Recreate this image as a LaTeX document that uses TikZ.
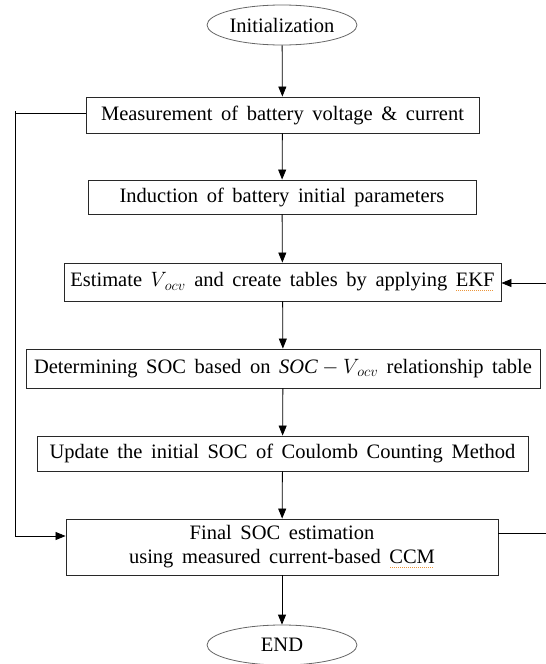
\documentclass[tikz,border=0pt]{standalone}
\usepackage{fontspec}
\setmainfont{Liberation Serif}
\usetikzlibrary{shapes.geometric,arrows.meta}
\definecolor{linegray}{RGB}{40,40,40}
\definecolor{spellmark}{RGB}{235,150,60}
% dotted proofing mark under a word
\newcommand{\proofmark}[1]{\setbox0\hbox{#1}\rlap{\raisebox{-4pt}{\color{spellmark}\leaders\hbox to 2pt{\hss\rule{0.9pt}{0.9pt}\hss}\hskip\wd0}}\box0}
\newcommand{\Vocv}{\ensuremath{V_{\,ocv}}}
\newcommand{\boxfont}{\fontsize{20.5}{25}\selectfont\spaceskip=0.42em plus 0.1em}
\begin{document}
\begin{tikzpicture}[x=1pt,y=-1pt,
  every node/.style={font=\boxfont, inner sep=0pt, align=center},
  stepbox/.style={draw=linegray, line width=0.9pt, rectangle},
  terminal/.style={draw=gray!80!black, line width=0.8pt, ellipse, minimum width=150pt, minimum height=40pt},
  arr/.style={draw=black, line width=0.8pt, -{Triangle[length=10pt,width=8pt]}},
  ln/.style={draw=black, line width=0.8pt}]
\useasboundingbox (0,0) rectangle (546,664);

\node[terminal] (init) at (282,25) {Initialization};
\node[stepbox, minimum width=393pt, minimum height=36pt] (meas) at (282.5,115) {Measurement of battery voltage \& current};
\node[stepbox, minimum width=388pt, minimum height=34pt] (induc) at (282,197) {Induction of battery initial parameters};
\node[stepbox, minimum width=437pt, minimum height=38pt] (ekf) at (282.5,282) {Estimate \Vocv{} and create tables by applying \proofmark{EKF}};
\node[stepbox, minimum width=514pt, minimum height=39pt] (soc) at (283,368.5) {Determining SOC based on $\mathit{SOC}-\Vocv$ relationship table};
\node[stepbox, minimum width=491pt, minimum height=35pt] (upd) at (282.5,453.5) {Update the initial SOC of Coulomb Counting Method};
\node[stepbox, minimum width=432pt, minimum height=56pt] (final) at (282,547) {Final SOC estimation\\[-1pt]using measured current-based \proofmark{CCM}};
\node[terminal] (end) at (282,645) {END};

% main flow
\draw[arr] (init) -- (meas);
\draw[arr] (meas) -- (induc);
\draw[arr] (induc) -- (ekf);
\draw[arr] (ekf) -- (soc);
\draw[arr] (soc) -- (upd);
\draw[arr] (upd) -- (final);
\draw[arr] (final) -- (end);

% loop on the left: measurement feeds the final estimation
\coordinate (lefttop) at (15,113);
\coordinate (leftbot) at (15,536);
\draw[ln] (meas.west |- lefttop) -- (lefttop);
\draw[ln] (15,111) -- (leftbot);
\draw[arr] (leftbot) -- (final.west |- leftbot);

% lines leaving at the right edge
\coordinate (rightout) at (546,533);
\coordinate (rightin) at (546,283);
\draw[ln] (final.east |- rightout) -- (rightout);
\draw[arr] (rightin) -- (ekf.east |- rightin);
\end{tikzpicture}
\end{document}
